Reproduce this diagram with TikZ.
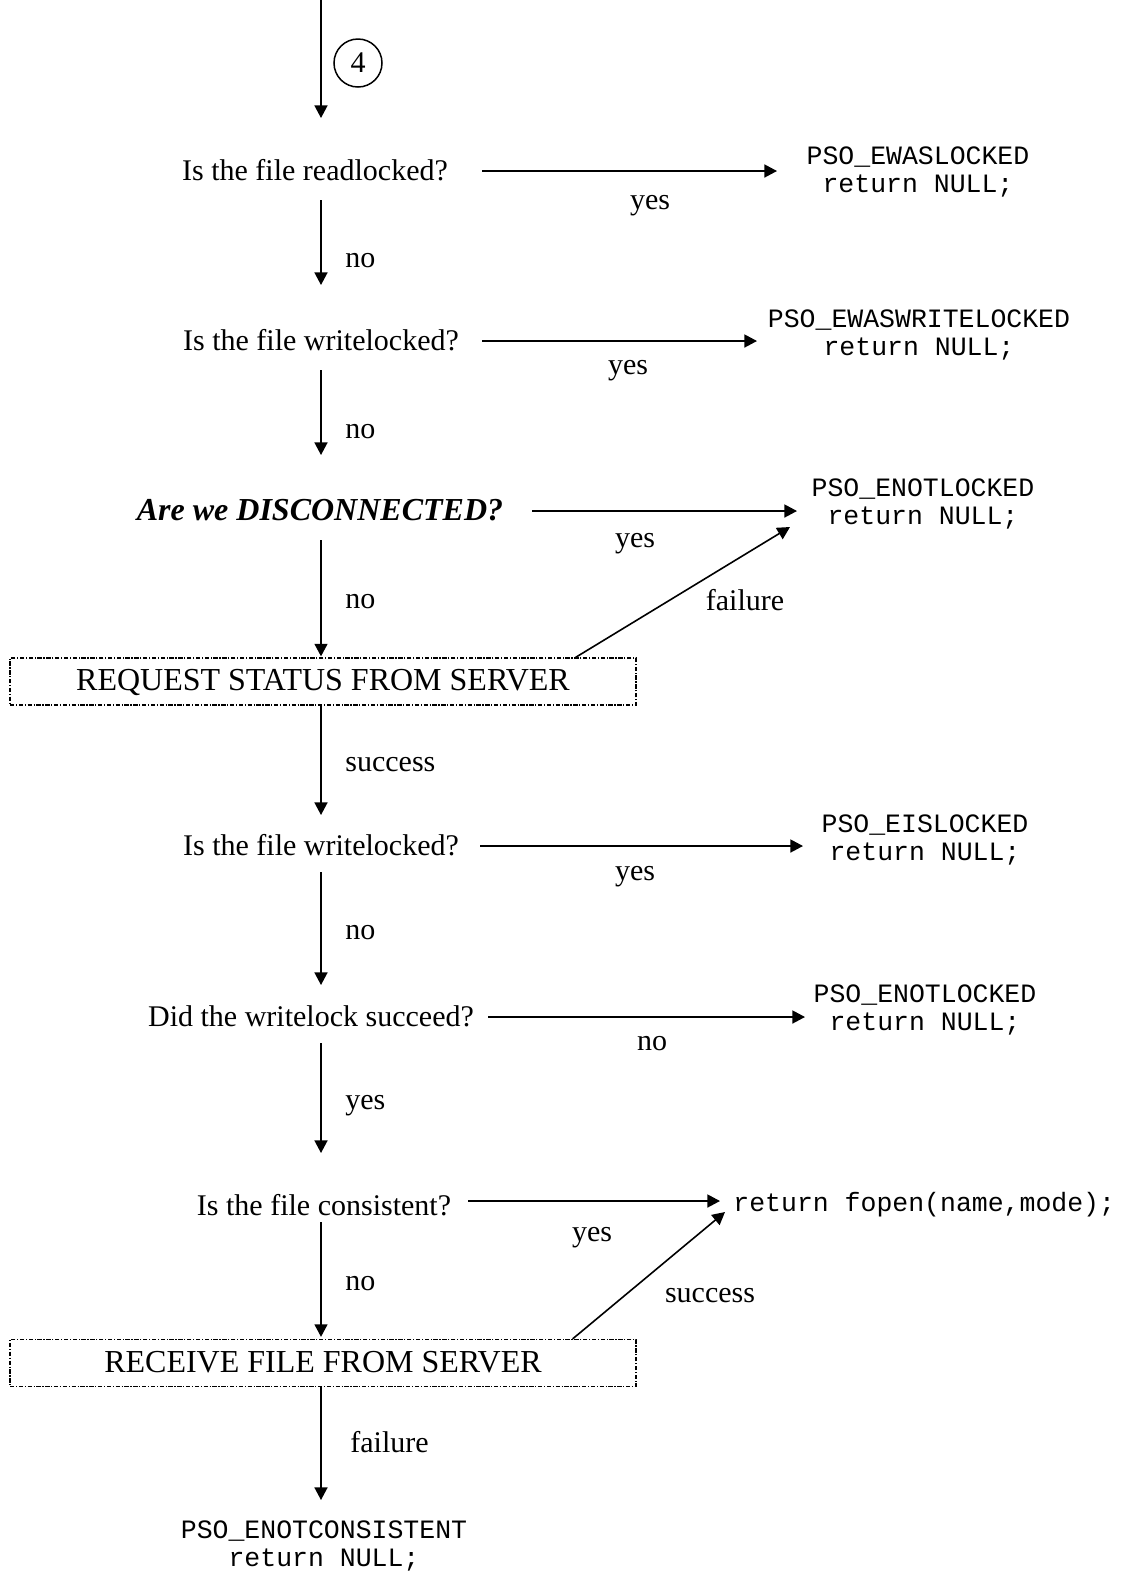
\documentclass[tikz,border=0pt]{standalone}
\usepackage{fontspec}
\setmainfont{Liberation Serif}
\setmonofont{Liberation Mono}
\usetikzlibrary{arrows.meta,calc}

\tikzset{
  arr/.style={draw, line width=0.8pt, -{Triangle[length=6.3pt,width=6.5pt]}},
  question/.style={inner sep=0pt, text height=0.93em, text depth=0pt,
    font=\fontsize{15}{18}\selectfont},
  lbl/.style={inner sep=0pt, text height=0.93em, text depth=0pt,
    font=\fontsize{15}{18}\selectfont},
  code/.style={inner sep=0pt, align=center,
    font=\fontsize{13.25}{13.9}\selectfont\ttfamily},
  stepbox/.style={draw, line width=0.65pt,
    dash pattern=on 2.2pt off 0.8pt on 0.6pt off 0.8pt,
    minimum width=313pt, minimum height=23.5pt, inner sep=0pt,
    text height=0.93em, text depth=0pt,
    font=\fontsize{16}{19}\selectfont}
}

\begin{document}
\begin{tikzpicture}[x=0.5pt, y=-0.5pt]
  \useasboundingbox (0,0) rectangle (1127,1571);

  % main vertical axis
  \coordinate (top) at (321,0);
  \coordinate (spine) at (321,0);

  % entry marker
  \node[circle, draw, line width=0.75pt, minimum size=24pt, inner sep=0pt,
        font=\fontsize{15}{18}\selectfont] (c4) at (358,63) {4};

  % decisions
  \node[question] (q1) at (315,171) {Is the file readlocked?};
  \node[question] (q2) at (321,341) {Is the file writelocked?};
  \node[question, font=\fontsize{16}{19}\selectfont\bfseries\itshape] (q3) at (320,511) {Are we DISCONNECTED?};
  \node[stepbox] (box1) at (323,681.5) {REQUEST STATUS FROM SERVER};
  \node[question] (q4) at (321,846) {Is the file writelocked?};
  \node[question] (q5) at (311,1017) {Did the writelock succeed?};
  \node[question] (q6) at (324,1206) {Is the file consistent?};
  \node[stepbox] (box2) at (323,1363) {RECEIVE FILE FROM SERVER};

  % results
  \node[code] (r1) at (918,172) {PSO\_EWASLOCKED\\return NULL;};
  \node[code] (r2) at (919,335) {PSO\_EWASWRITELOCKED\\return NULL;};
  \node[code] (r3) at (923,504) {PSO\_ENOTLOCKED\\return NULL;};
  \node[code] (r4) at (925,840) {PSO\_EISLOCKED\\return NULL;};
  \node[code] (r5) at (925,1010) {PSO\_ENOTLOCKED\\return NULL;};
  \node[code, anchor=west] (r6) at (733,1205) {return fopen(name,mode);};
  \node[code] (rend) at (324,1546) {PSO\_ENOTCONSISTENT\\return NULL;};

  % vertical flow
  \draw[arr, shorten >=26.5pt] (top) -- (spine |- q1.center);
  \draw[arr, shorten <=14.5pt, shorten >=28pt] (spine |- q1.center) -- (spine |- q2.center);
  \draw[arr, shorten <=14.5pt, shorten >=28pt] (spine |- q2.center) -- (spine |- q3.center);
  \draw[arr, shorten <=14.5pt, shorten >=0.5pt] (spine |- q3.center) -- (spine |- box1.north);
  \draw[arr, shorten >=15.5pt] (spine |- box1.south) -- (spine |- q4.center);
  \draw[arr, shorten <=13pt, shorten >=16pt] (spine |- q4.center) -- (spine |- q5.center);
  \draw[arr, shorten <=13pt, shorten >=26.5pt] (spine |- q5.center) -- (spine |- q6.center);
  \draw[arr, shorten <=8pt, shorten >=1pt] (spine |- q6.center) -- (spine |- box2.north);
  \draw[arr, shorten >=23pt] (spine |- box2.south) -- (spine |- rend.center);

  % branches to the right
  \draw[arr, shorten <=83.5pt, shorten >=70.5pt] (q1.center) -- (q1.center -| r1.center);
  \draw[arr, shorten <=80.5pt, shorten >=81pt] (q2.center) -- (q2.center -| r2.center);
  \draw[arr, shorten <=106pt, shorten >=63pt] (q3.center) -- (q3.center -| r3.center);
  \draw[arr, shorten <=79.5pt, shorten >=61pt] (q4.center) -- (q4.center -| r4.center);
  \draw[arr, shorten <=88.5pt, shorten >=60pt] (q5.center) -- (q5.center -| r5.center);
  \draw[arr, shorten <=72pt, shorten >=6.5pt] ([yshift=2pt]r6.west -| q6.center) -- ([yshift=2pt]r6.west);

  % diagonal returns from the server requests
  \draw[arr] ($(box1.north east)+(-61,0)$) -- ($(r3.center)+(-133,23)$);
  \draw[arr] ($(box2.north east)+(-64,0)$) -- ($(r6.west)+(-8,7)$);

  % branch labels
  \node[lbl] (l1) at (650,200) {yes};
  \node[lbl] (l2) at (628,365) {yes};
  \node[lbl] (l3) at (635,538) {yes};
  \node[lbl] (l4) at (745,601) {failure};
  \node[lbl] (l5) at (635,871) {yes};
  \node[lbl] (l6) at (652,1041) {no};
  \node[lbl] (l7) at (592,1232) {yes};
  \node[lbl] (l8) at (710,1293) {success};

  \node[lbl, anchor=west] (v1) at (345,258) {no};
  \node[lbl, anchor=west] (v2) at (345,429) {no};
  \node[lbl, anchor=west] (v3) at (345,599) {no};
  \node[lbl, anchor=west] (v4) at (345,762) {success};
  \node[lbl, anchor=west] (v5) at (345,930) {no};
  \node[lbl, anchor=west] (v6) at (345,1100) {yes};
  \node[lbl, anchor=west] (v7) at (345,1281) {no};
  \node[lbl, anchor=west] (v8) at (350,1443) {failure};
\end{tikzpicture}
\end{document}
